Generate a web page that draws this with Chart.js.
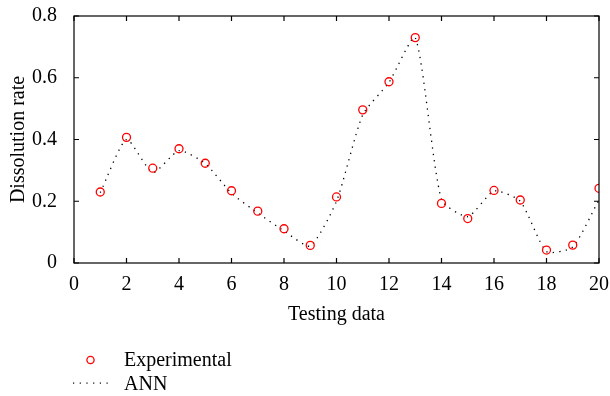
<!DOCTYPE html>
<html>
<head>
<meta charset="utf-8">
<script src="https://cdn.jsdelivr.net/npm/chart.js@4/dist/chart.umd.min.js"></script>
<style>
  html, body { margin: 0; padding: 0; background: #fff; }
  #wrap { width: 610px; height: 396px; }
</style>
</head>
<body>
<div id="wrap"><canvas id="chart" width="610" height="396"></canvas></div>
<script>
const testingData = [1, 2, 3, 4, 5, 6, 7, 8, 9, 10, 11, 12, 13, 14, 15, 16, 17, 18, 19, 20];
const experimental = [0.230, 0.407, 0.307, 0.370, 0.323, 0.234, 0.168, 0.111, 0.057, 0.214,
  0.496, 0.587, 0.730, 0.193, 0.144, 0.235, 0.204, 0.042, 0.058, 0.242];
const ann = [0.228, 0.400, 0.293, 0.364, 0.322, 0.226, 0.162, 0.104, 0.055, 0.200,
  0.480, 0.585, 0.730, 0.205, 0.150, 0.233, 0.200, 0.037, 0.052, 0.205];
const xTicks = [0, 2, 4, 6, 8, 10, 12, 14, 16, 18, 20];
const yTicks = [0, 0.2, 0.4, 0.6, 0.8];

const FONT = "'Liberation Serif', 'DejaVu Serif', serif";

// box around the plot with inward ticks on all sides
const frame = {
  id: "frame",
  afterDatasetsDraw(chart) {
    const { ctx, chartArea: a, scales } = chart;
    ctx.save();
    ctx.strokeStyle = "#000";
    ctx.lineWidth = 1.2;
    ctx.strokeRect(a.left, a.top, a.right - a.left, a.bottom - a.top);
    ctx.beginPath();
    xTicks.forEach((v) => {
      const px = scales.x.getPixelForValue(v);
      ctx.moveTo(px, a.bottom); ctx.lineTo(px, a.bottom - 5);
      ctx.moveTo(px, a.top); ctx.lineTo(px, a.top + 5);
    });
    yTicks.forEach((v) => {
      const py = scales.y.getPixelForValue(v);
      ctx.moveTo(a.left, py); ctx.lineTo(a.left + 5, py);
      ctx.moveTo(a.right, py); ctx.lineTo(a.right - 5, py);
    });
    ctx.stroke();

    // legend
    ctx.font = "20px " + FONT;
    ctx.fillStyle = "#000";
    ctx.textBaseline = "alphabetic";
    ctx.textAlign = "left";
    ctx.strokeStyle = "#ff0000";
    ctx.lineWidth = 1.3;
    ctx.beginPath();
    ctx.arc(90.5, 360, 3.6, 0, Math.PI * 2);
    ctx.stroke();
    ctx.fillText("Experimental", 124, 366);
    ctx.fillStyle = "#000";
    for (let i = 0; i < 6; i++) {
      ctx.fillRect(73 + i * 6.7, 382.5, 1.2, 1.2);
    }
    ctx.fillText("ANN", 124, 390);
    ctx.restore();
  },
};

new Chart(document.getElementById("chart"), {
  type: "line",
  data: {
    datasets: [
      {
        label: "Experimental",
        data: testingData.map((x, i) => ({ x: x, y: experimental[i] })),
        showLine: false,
        pointStyle: "circle",
        pointRadius: 4,
        pointBorderWidth: 1.3,
        pointBorderColor: "#ff0000",
        pointBackgroundColor: "rgba(255,255,255,0)",
        order: 1,
      },
      {
        label: "ANN",
        data: testingData.map((x, i) => ({ x: x, y: ann[i] })),
        borderColor: "#000",
        borderWidth: 1.3,
        borderDash: [1.3, 5.2],
        pointRadius: 0,
        tension: 0.2,
        fill: false,
        order: 2,
      },
    ],
  },
  options: {
    responsive: false,
    animation: false,
    layout: { padding: { left: 0, right: 11, top: 16, bottom: 68 } },
    plugins: { legend: { display: false }, tooltip: { enabled: false } },
    scales: {
      x: {
        type: "linear",
        min: 0,
        max: 20,
        afterBuildTicks: (s) => { s.ticks = xTicks.map((v) => ({ value: v })); },
        afterFit: (s) => { s.height = 65; s.paddingLeft = 0; s.paddingRight = 0; },
        grid: { display: false },
        border: { display: false },
        ticks: { color: "#000", font: { family: FONT, size: 20 }, padding: 2 },
        title: {
          display: true,
          text: "Testing data",
          color: "#000",
          font: { family: FONT, size: 20 },
          padding: { top: 0, bottom: 1 },
        },
      },
      y: {
        min: 0,
        max: 0.8,
        afterBuildTicks: (s) => { s.ticks = yTicks.map((v) => ({ value: v })); },
        afterFit: (s) => { s.width = 74; s.paddingTop = 0; s.paddingBottom = 0; },
        grid: { display: false },
        border: { display: false },
        ticks: { color: "#000", font: { family: FONT, size: 20 }, padding: 9 },
        title: {
          display: true,
          text: "Dissolution rate",
          color: "#000",
          font: { family: FONT, size: 20 },
          padding: { top: 7, bottom: 0 },
        },
      },
    },
  },
  plugins: [frame],
});
</script>
</body>
</html>
